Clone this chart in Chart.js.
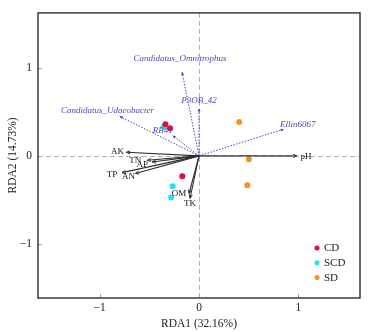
<!DOCTYPE html>
<html>
<head>
<meta charset="utf-8">
<title>RDA</title>
<script src="https://cdn.jsdelivr.net/npm/chart.js@4.4.1/dist/chart.umd.min.js"></script>
<style>
  html, body { margin: 0; padding: 0; background: #fff; }
  #wrap { width: 371px; height: 332px; }
</style>
</head>
<body>
<div id="wrap"><canvas id="rda" width="371" height="332"></canvas></div>
<script>
// --- dane ---
const groupNames = ['CD', 'SCD', 'SD'];
const groupColors = ['#d4143c', '#22e3ec', '#f8901c'];
const groupX = [
    [-0.338, -0.291, -0.168],
    [-0.355, -0.265, -0.281],
    [0.405, 0.502, 0.486]
];
const groupY = [
    [0.359, 0.314, -0.232],
    [0.329, -0.344, -0.471],
    [0.385, -0.037, -0.333]
];

// czynniki środowiskowe (strzałki czarne)
const envNames = ['AK', 'TN', 'AP', 'TP', 'AN', 'OM', 'TK', 'pH'];
const envX = [-0.730, -0.52, -0.47, -0.774, -0.64, -0.10, -0.09, 0.985];
const envY = [0.041, -0.05, -0.07, -0.19, -0.20, -0.426, -0.48, 0.0];
const envLabelOffset = [[-9, -1], [-12, 0], [-10, 2.5], [-10, 1.5], [-7, 3.5], [-10, 0], [0, 5], [9, 1]];

// taksony (strzałki niebieskie, kropkowane)
const spNames = ['Candidatus_Omnitrophus', 'P3OB_42', 'Candidatus_Udaeobacter', 'RB41', 'Ellin6067'];
const spX = [-0.171, 0.0, -0.80, -0.265, 0.854];
const spY = [0.95, 0.54, 0.449, 0.232, 0.303];
const spLabelOffset = [[-2, -13], [0, -8], [-12, -6], [-10, -5], [14, -5]];

const xTicks = [-1, 0, 1];
const yTicks = [-1, 0, 1];
const xTitle = 'RDA1 (32.16%)';
const yTitle = 'RDA2 (14.73%)';

const SERIF = '"Liberation Serif", "Times New Roman", serif';
const ENV_COLOR = '#2e2e2e';
const SP_COLOR = '#4a4ab8';

document.addEventListener('DOMContentLoaded', () => {

    const datasets = [];

    // linie strzałek jako zestawy danych (od środka do końca)
    envNames.forEach((name, i) => {
        datasets.push({
            label: name,
            data: [{ x: 0, y: 0 }, { x: envX[i], y: envY[i] }],
            showLine: true,
            borderColor: ENV_COLOR,
            borderWidth: 1.1,
            pointRadius: 0
        });
    });
    spNames.forEach((name, i) => {
        datasets.push({
            label: name,
            data: [{ x: 0, y: 0 }, { x: spX[i], y: spY[i] }],
            showLine: true,
            borderColor: SP_COLOR,
            borderWidth: 1,
            borderDash: [1.5, 1.5],
            pointRadius: 0
        });
    });
    groupNames.forEach((name, g) => {
        datasets.push({
            label: name,
            data: groupX[g].map((x, k) => ({ x: x, y: groupY[g][k] })),
            backgroundColor: groupColors[g],
            borderWidth: 0,
            pointRadius: 3
        });
    });

    function fmt(v) {
        return v < 0 ? '\u2212' + Math.abs(v) : String(v);
    }

    function arrowHead(ctx, x0, y0, x1, y1, len, filled) {
        const a = Math.atan2(y1 - y0, x1 - x0);
        const spread = filled ? 0.45 : 0.4;
        ctx.beginPath();
        ctx.moveTo(x1 - len * Math.cos(a - spread), y1 - len * Math.sin(a - spread));
        ctx.lineTo(x1, y1);
        ctx.lineTo(x1 - len * Math.cos(a + spread), y1 - len * Math.sin(a + spread));
        if (filled) {
            ctx.closePath();
            ctx.fill();
        } else {
            ctx.stroke();
        }
    }

    const decor = {
        id: 'decor',
        beforeDatasetsDraw(chart) {
            const { ctx, chartArea: a, scales: { x, y } } = chart;
            ctx.save();
            // przerywane linie zerowe
            ctx.strokeStyle = '#b4b4b4';
            ctx.lineWidth = 1;
            ctx.setLineDash([5, 3]);
            const x0 = Math.round(x.getPixelForValue(0)) + 0.5;
            const y0 = Math.round(y.getPixelForValue(0)) + 0.5;
            ctx.beginPath();
            ctx.moveTo(x0, a.top); ctx.lineTo(x0, a.bottom);
            ctx.moveTo(a.left, y0); ctx.lineTo(a.right, y0);
            ctx.stroke();
            ctx.setLineDash([]);
            // znaczniki osi do środka
            ctx.strokeStyle = '#aaaaaa';
            ctx.beginPath();
            xTicks.forEach(v => {
                const px = Math.round(x.getPixelForValue(v)) + 0.5;
                ctx.moveTo(px, a.bottom); ctx.lineTo(px, a.bottom - 4);
            });
            yTicks.forEach(v => {
                const py = Math.round(y.getPixelForValue(v)) + 0.5;
                ctx.moveTo(a.left, py); ctx.lineTo(a.left + 4, py);
            });
            ctx.stroke();
            ctx.restore();
        },
        afterDatasetsDraw(chart) {
            const { ctx, chartArea: a, scales: { x, y } } = chart;
            const ox = x.getPixelForValue(0);
            const oy = y.getPixelForValue(0);
            ctx.save();
            ctx.textAlign = 'center';
            ctx.textBaseline = 'middle';

            // groty + etykiety czynników
            ctx.strokeStyle = ENV_COLOR;
            ctx.fillStyle = '#111';
            ctx.lineWidth = 1;
            ctx.font = '9px ' + SERIF;
            envNames.forEach((name, i) => {
                const px = x.getPixelForValue(envX[i]);
                const py = y.getPixelForValue(envY[i]);
                arrowHead(ctx, ox, oy, px, py, 4, false);
                ctx.fillText(name, px + envLabelOffset[i][0], py + envLabelOffset[i][1]);
            });

            // groty + etykiety taksonów
            ctx.fillStyle = SP_COLOR;
            ctx.font = 'italic 9px ' + SERIF;
            spNames.forEach((name, i) => {
                const px = x.getPixelForValue(spX[i]);
                const py = y.getPixelForValue(spY[i]);
                arrowHead(ctx, ox, oy, px, py, 3.5, true);
                ctx.fillText(name, px + spLabelOffset[i][0], py + spLabelOffset[i][1]);
            });

            // legenda
            ctx.textAlign = 'left';
            ctx.font = '11px ' + SERIF;
            groupNames.forEach((name, g) => {
                const ly = a.bottom - 50 + g * 14.8;
                ctx.fillStyle = groupColors[g];
                ctx.beginPath();
                ctx.arc(a.right - 43, ly, 2.5, 0, Math.PI * 2);
                ctx.fill();
                ctx.fillStyle = '#222';
                ctx.fillText(name, a.right - 36, ly + 0.5);
            });

            // ramka
            ctx.strokeStyle = '#3a3a3a';
            ctx.lineWidth = 1.5;
            ctx.strokeRect(a.left, a.top, a.right - a.left, a.bottom - a.top);
            ctx.restore();
        }
    };

    new Chart(document.getElementById('rda'), {
        type: 'scatter',
        data: { datasets: datasets },
        options: {
            responsive: false,
            animation: false,
            devicePixelRatio: 1,
            layout: { padding: { top: 10, right: 11, left: 0, bottom: 0 } },
            plugins: {
                legend: { display: false },
                tooltip: { enabled: false }
            },
            scales: {
                x: {
                    type: 'linear',
                    min: -1.62,
                    max: 1.62,
                    afterBuildTicks: s => { s.ticks = xTicks.map(v => ({ value: v })); },
                    afterFit: s => { s.height = 34; },
                    grid: { display: false, drawTicks: false, tickLength: 0 },
                    border: { display: false },
                    ticks: {
                        callback: v => fmt(v),
                        font: { family: SERIF, size: 11.5 },
                        color: '#222',
                        padding: 3
                    },
                    title: {
                        display: true,
                        text: xTitle,
                        font: { family: SERIF, size: 11.5 },
                        color: '#222',
                        padding: { top: 0, bottom: 1 }
                    }
                },
                y: {
                    type: 'linear',
                    min: -1.61,
                    max: 1.62,
                    afterBuildTicks: s => { s.ticks = yTicks.map(v => ({ value: v })); },
                    afterFit: s => { s.width = 38; },
                    grid: { display: false, drawTicks: false, tickLength: 0 },
                    border: { display: false },
                    ticks: {
                        callback: v => fmt(v),
                        font: { family: SERIF, size: 11.5 },
                        color: '#222',
                        padding: 6
                    },
                    title: {
                        display: true,
                        text: yTitle,
                        font: { family: SERIF, size: 11.5 },
                        color: '#222',
                        padding: { top: 6, bottom: 0 }
                    }
                }
            }
        },
        plugins: [decor]
    });
});
</script>
</body>
</html>
